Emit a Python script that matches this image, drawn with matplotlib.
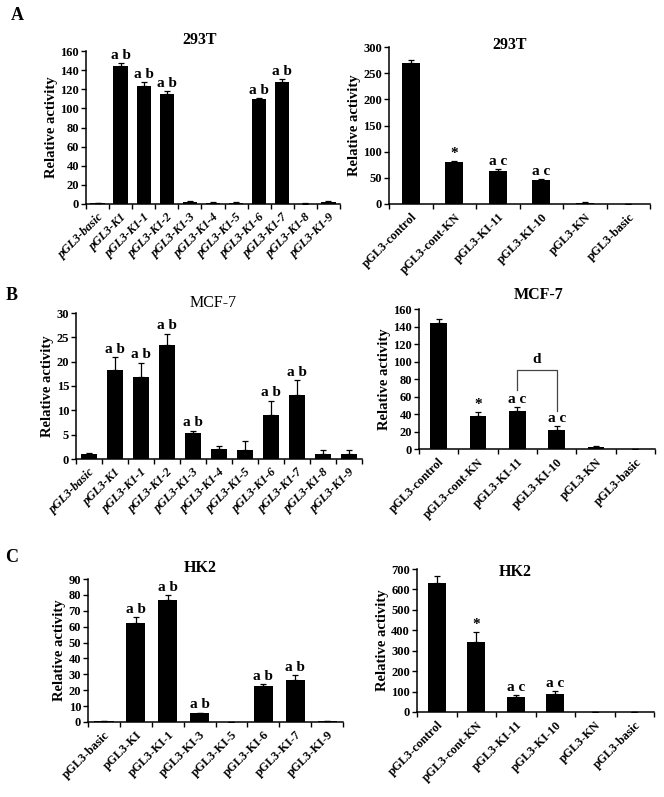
import numpy as np
import matplotlib
matplotlib.use("Agg")
import matplotlib.pyplot as plt

plt.rcParams["font.family"] = ["Liberation Serif", "DejaVu Serif"]

W, H = 664, 797

# --- data -------------------------------------------------------------
a_left_labels = ["pGL3-basic", "pGL3-K1", "pGL3-K1-1", "pGL3-K1-2", "pGL3-K1-3", "pGL3-K1-4",
                 "pGL3-K1-5", "pGL3-K1-6", "pGL3-K1-7", "pGL3-K1-8", "pGL3-K1-9"]
a_left_vals = [1.0, 144, 123, 115, 2.0, 1.5, 1.5, 110, 128, 0.5, 2.0]
a_left_err = [0.3, 3, 5, 3, 0.8, 0.4, 0.4, 1, 3, 0.2, 1.0]
a_left_marks = ["", "a b", "a b", "a b", "", "", "", "a b", "a b", "", ""]

right_labels = ["pGL3-control", "pGL3-cont-KN", "pGL3-KI-11", "pGL3-KI-10", "pGL3-KN", "pGL3-basic"]
right_marks = ["", "*", "a c", "a c", "", ""]

a_right_vals = [270, 80, 64, 45, 2.0, 0.5]
a_right_err = [6, 2, 3, 3, 1.0, 0.2]

b_left_labels = a_left_labels
b_left_vals = [1.0, 18.3, 16.9, 23.4, 5.3, 2.0, 1.8, 9.0, 13.2, 1.0, 1.0]
b_left_err = [0.2, 2.6, 2.9, 2.3, 0.5, 0.7, 1.9, 3.0, 3.0, 0.8, 0.9]
b_left_marks = ["", "a b", "a b", "a b", "a b", "", "", "a b", "a b", "", ""]

b_right_vals = [144, 38, 44, 22, 2.5, 0.3]
b_right_err = [5, 4.5, 4.5, 4, 0.5, 0.1]

c_left_labels = ["pGL3-basic", "pGL3-KI", "pGL3-KI-1", "pGL3-KI-3", "pGL3-KI-5",
                 "pGL3-KI-6", "pGL3-KI-7", "pGL3-KI-9"]
c_left_vals = [0.5, 62, 77, 5.6, 0.0, 22.6, 26.2, 0.5]
c_left_err = [0.1, 4, 3, 0.3, 0.0, 1.2, 3.5, 0.1]
c_left_marks = ["", "a b", "a b", "a b", "", "a b", "a b", ""]

c_right_vals = [631, 341, 71, 87, 0.0, 0.0]
c_right_err = [36, 52, 12, 15, 0.0, 0.0]


def box(x0, x1, ytop, ybot):
    return [x0 / W, 1 - ybot / H, (x1 - x0) / W, (ybot - ytop) / H]


def panel(fig, rect, labels, vals, errs, marks, ylim, yticks, width, italic, mark_pad):
    ax = fig.add_axes(box(*rect))
    x = np.arange(len(vals))
    ax.bar(x, vals, width=width, color="black", zorder=2)
    ax.errorbar(x, vals, yerr=[np.zeros(len(errs)), errs], fmt="none", ecolor="black",
                elinewidth=0.9, capsize=2.5, capthick=0.9, zorder=3)
    for xi, v, e, m in zip(x, vals, errs, marks):
        if m:
            ax.text(xi, v + e + mark_pad, m, ha="center", va="bottom",
                    fontsize=11 if m == "*" else 11, fontweight="bold")
    ax.set_xlim(-0.5, len(vals) - 0.5)
    ax.set_ylim(*ylim)
    ax.set_yticks(yticks)
    ax.set_xticks(x)
    ax.set_xticklabels(labels, rotation=45, ha="right", rotation_mode="anchor",
                       fontsize=8.8, fontweight="bold", fontstyle="italic" if italic else "normal")
    ax.set_xticks(np.arange(len(vals) + 1) - 0.5, minor=True)
    ax.tick_params(axis="x", which="major", length=0, pad=5)
    ax.tick_params(axis="x", which="minor", length=3.5, width=1.0, direction="out")
    ax.tick_params(axis="y", length=3.5, width=1.0, labelsize=9, pad=1.5)
    for t in ax.get_yticklabels():
        t.set_fontweight("bold")
    for s in ("top", "right"):
        ax.spines[s].set_visible(False)
    for s in ("left", "bottom"):
        ax.spines[s].set_linewidth(1.1)
    ax.set_ylabel("Relative activity", fontsize=10.5, fontweight="bold", labelpad=2)
    return ax


def title(fig, px, py, text, bold=True):
    fig.text(px / W, 1 - py / H, text, ha="center", va="center", fontsize=11.5,
             fontweight="bold" if bold else "normal")


fig = plt.figure(figsize=(W / 100, H / 100), dpi=100)

panel(fig, (86, 340, 51, 204), a_left_labels, a_left_vals, a_left_err, a_left_marks,
      (0, 160), range(0, 161, 20), 0.62, True, 1)
title(fig, 200, 40, "293T")

panel(fig, (389, 650, 47, 204), right_labels, a_right_vals, a_right_err, right_marks,
      (0, 300), range(0, 301, 50), 0.42, False, 2)
title(fig, 510, 45, "293T")

panel(fig, (76, 362, 313, 459), b_left_labels, b_left_vals, b_left_err, b_left_marks,
      (0, 30), range(0, 31, 5), 0.62, True, 0.3)
title(fig, 213, 303, "MCF-7", bold=False)

ax4 = panel(fig, (419, 655, 309, 449), right_labels, b_right_vals, b_right_err, right_marks,
            (0, 160), range(0, 161, 20), 0.42, False, 1)
title(fig, 539, 295, "MCF-7")
# significance bracket between pGL3-KI-11 and pGL3-KI-10
ax4.plot([2, 2, 3, 3], [67, 90, 90, 44], color="#444444", lw=0.9)
ax4.text(2.5, 95, "d", ha="center", va="bottom", fontsize=11, fontweight="bold")

panel(fig, (88, 343, 579, 722), c_left_labels, c_left_vals, c_left_err, c_left_marks,
      (0, 90), range(0, 91, 10), 0.6, False, 0.8)
title(fig, 200, 568, "HK2")

panel(fig, (417, 654, 569, 712), right_labels, c_right_vals, c_right_err, right_marks,
      (0, 700), range(0, 701, 100), 0.45, False, 5)
title(fig, 515, 572, "HK2")

for letter, (px, py) in {"A": (17, 15), "B": (12, 296), "C": (12, 557)}.items():
    fig.text(px / W, 1 - py / H, letter, ha="center", va="center", fontsize=13, fontweight="bold")

fig.savefig("out.png", dpi=100)
